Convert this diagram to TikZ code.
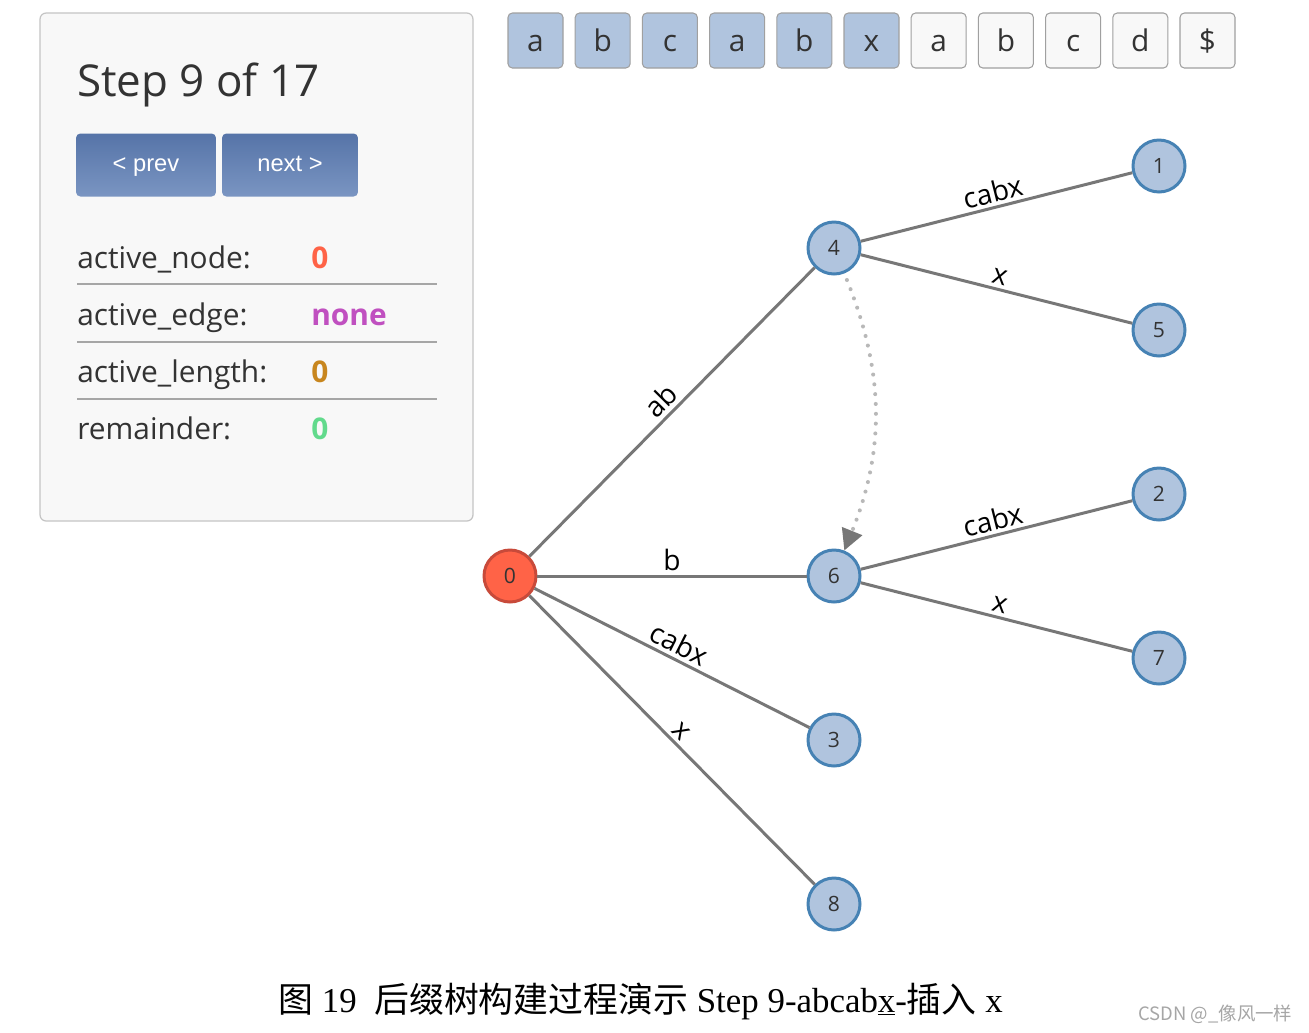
\documentclass[tikz,border=0pt]{standalone}
\usepackage{fontspec}
\setmainfont{Open Sans}
\newfontfamily\btnfont{Liberation Sans}
\newfontfamily\capfont{Liberation Serif}
\newfontfamily\cjk{Noto Sans CJK SC}
\usetikzlibrary{arrows.meta,positioning,calc}
\definecolor{txt}{HTML}{333333}
\definecolor{edgegray}{HTML}{777777}
\definecolor{steel}{HTML}{4682B4}
\definecolor{lsteel}{HTML}{B0C4DE}
\definecolor{tomato}{HTML}{FF6347}
\definecolor{rootred}{HTML}{C84A3A}
\definecolor{cellline}{HTML}{A0A0A0}
\definecolor{cellbg}{HTML}{F8F8F8}
\definecolor{panelbg}{HTML}{F8F8F8}
\definecolor{panelline}{HTML}{C4C4C4}
\definecolor{btntop}{HTML}{5674A8}
\definecolor{btnbot}{HTML}{7A95C2}
\definecolor{valedge}{HTML}{C050C0}
\definecolor{vallen}{HTML}{C8861E}
\definecolor{valrem}{HTML}{62DA8C}

\begin{document}
\begin{tikzpicture}[x=0.02cm,y=-0.02cm,
    leaf/.style={circle,draw=steel,fill=lsteel,line width=1.7pt,minimum size=1.04cm,inner sep=0pt,font=\fontsize{12}{14}\selectfont,text=txt},
    root/.style={leaf,draw=rootred,fill=tomato},
    link/.style={draw=edgegray,line width=1.7pt},
    lbl/.style={sloped,above,inner sep=2pt,font=\fontsize{16}{18}\selectfont,text=black},
    cell/.style={draw=cellline,fill=cellbg,rounded corners=2.5pt,line width=0.6pt,minimum width=1.1cm,minimum height=1.1cm,inner sep=0pt,text height=15pt,text depth=3pt,font=\fontsize{17}{20}\selectfont,text=txt},
    done/.style={cell,fill=lsteel},
    btn/.style={rounded corners=2.5pt,top color=btntop,bottom color=btnbot,minimum height=1.26cm,inner sep=0pt,text height=10pt,text depth=3pt,text=white,font=\btnfont\fontsize{13.5}{16}\selectfont},
    key/.style={anchor=base west,font=\fontsize{17}{20}\selectfont,text=txt},
    val/.style={anchor=base west,font=\bfseries\fontsize{17}{20}\selectfont}
  ]
    \path[use as bounding box,fill=white] (0,0) rectangle (1309,1032);

    % Left panel
    \draw[fill=panelbg,draw=panelline,line width=0.7pt,rounded corners=3.5pt] (40,13) rectangle (473,521);
    \node[anchor=base west,font=\fontsize{25}{30}\selectfont,text=txt,inner sep=0pt] (title) at (77,96) {Step 9 of 17};
    \node[btn,minimum width=2.8cm] (prev) at (146,165) {< prev};
    \node[btn,minimum width=2.72cm] (next) at (290,165) {next >};
    \foreach \k/\v/\c/\y [count=\i] in {active\_node:/0/tomato/268,active\_edge:/none/valedge/325,active\_length:/0/vallen/382,remainder:/0/valrem/439} {
      \node[key,inner sep=0pt] (key\i) at (77,\y) {\k};
      \node[val,inner sep=0pt,text=\c] (val\i) at (311,\y) {\v};
    }
    \foreach \y in {284,342,399}
      \draw[draw=black!35,line width=0.6pt] (77,\y) -- (437,\y);

    % String cells
    \foreach \c [count=\i from 0] in {a,b,c,a,b,x}
      \node[done] (s\i) at ({535.5+67.2*\i},40.5) {\c};
    \foreach \c [count=\i from 6] in {a,b,c,d,\$}
      \node[cell] (s\i) at ({535.5+67.2*\i},40.5) {\c};

    % Tree nodes
    \node[root] (n0) at (510,576) {0};
    \node[leaf] (n4) at (834,248) {4};
    \node[leaf] (n6) at (834,576) {6};
    \node[leaf] (n3) at (834,740) {3};
    \node[leaf] (n8) at (834,904) {8};
    \node[leaf] (n1) at (1159,166) {1};
    \node[leaf] (n5) at (1159,330) {5};
    \node[leaf] (n2) at (1159,494) {2};
    \node[leaf] (n7) at (1159,658) {7};

    % Edges
    \draw[link] (n0) -- node[lbl] {ab} (n4);
    \draw[link] (n0) -- node[lbl] {b} (n6);
    \draw[link] (n0) -- node[lbl] {cabx} (n3);
    \draw[link] (n0) -- node[lbl] {x} (n8);
    \draw[link] (n4) -- node[lbl] {cabx} (n1);
    \draw[link] (n4) -- node[lbl] {x} (n5);
    \draw[link] (n6) -- node[lbl] {cabx} (n2);
    \draw[link] (n6) -- node[lbl] {x} (n7);

    % Suffix link
    \draw[draw=black!28,line width=2.3pt,line cap=round,dash pattern=on 0pt off 5.6pt,
      -{Triangle[length=0.42cm,width=0.42cm,color=edgegray]},shorten <=4pt,shorten >=0pt]
      (n4) to[bend left=22] (n6);

    % Caption
    \node[anchor=base west,inner sep=0pt,font=\capfont\fontsize{19.85}{22}\selectfont] (cap) at (278,1012)
      {{\cjk 图} 19\ \ {\cjk 后缀树构建过程演示} Step 9-abcab\underline{x}-{\cjk 插入} x};
    \node[anchor=base west,inner sep=0pt,font=\cjk\fontsize{10.5}{12}\selectfont,text=black!35] (mark) at (1138,1020) {CSDN @\_像风一样};
  \end{tikzpicture}
\end{document}
